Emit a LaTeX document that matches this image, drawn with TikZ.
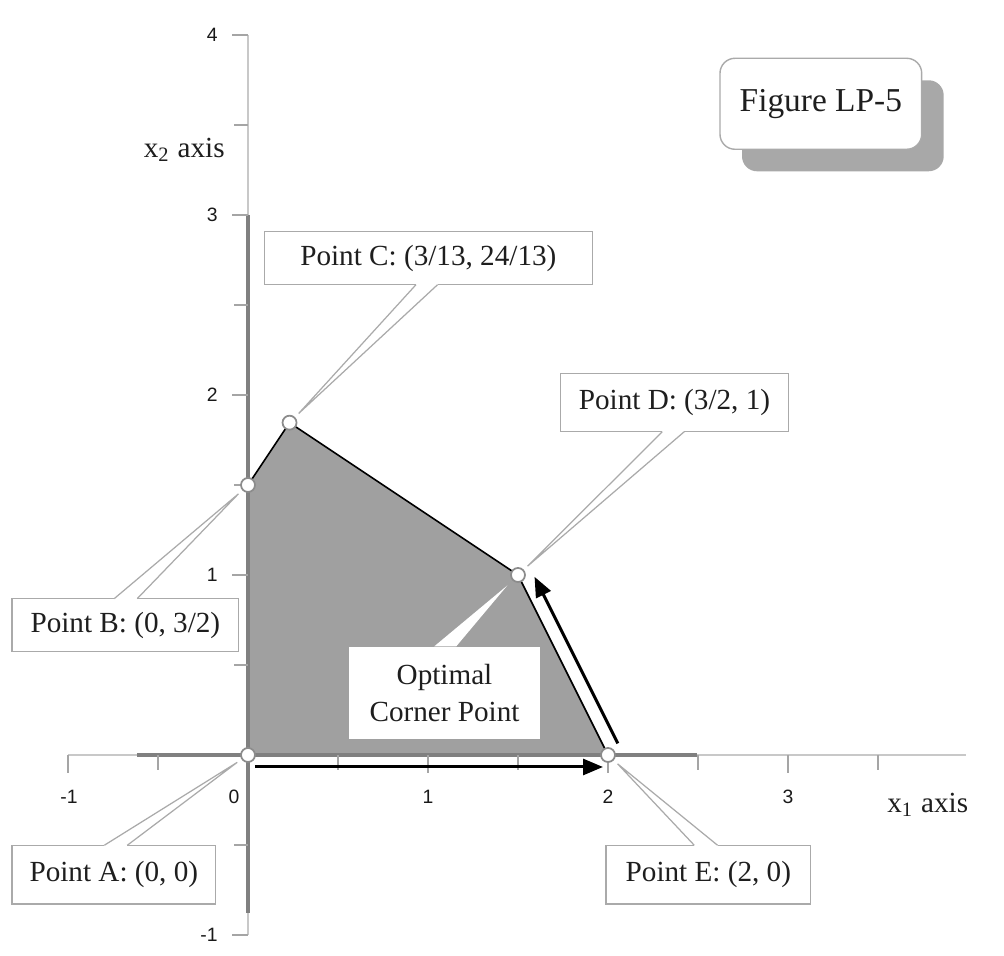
\documentclass[tikz,border=0pt]{standalone}
\usepackage{fontspec}
\setmainfont{Liberation Serif}
\newfontfamily\tickfont{Liberation Sans}
\usetikzlibrary{calc,arrows.meta,shadows}
\definecolor{regiongray}{RGB}{160,160,160}
\definecolor{axisdark}{RGB}{128,128,128}
\definecolor{axislight}{RGB}{200,200,200}
\definecolor{tickgray}{RGB}{165,165,165}
\definecolor{callgray}{RGB}{170,170,170}
\definecolor{shadowgray}{RGB}{168,168,168}
\definecolor{textdark}{RGB}{30,30,30}
\newcommand{\mycallout}[6]{%
  \coordinate (#1L) at ([xshift=#4]#1.#3 west);
  \coordinate (#1R) at ([xshift=#5]#1.#3 west);
  \coordinate (#1M) at ($(#1L)!0.5!(#1R)$);
  \coordinate (#1T) at ($(#2.center)!0.13cm!(#1M)$);
  \draw[callline, fill=white] (#1L) -- (#1T) -- (#1R);
  \draw[callline] (#1R) -- (#1.#3 east) -- (#1.#6 east) -- (#1.#6 west) -- (#1.#3 west) -- (#1L);
}
\begin{document}
\begin{tikzpicture}[x=1.8cm,y=1.8cm,
  labeltext/.style={font=\fontsize{8.3}{10.4}\selectfont, text=textdark},
  ticklabel/.style={font=\tickfont\fontsize{5.5}{6}\selectfont, text=black!90, inner sep=0},
  callbox/.style={labeltext, fill=white, inner sep=0, align=center},
  callline/.style={draw=callgray, line width=0.35pt},
  vertex/.style={circle, draw=black!45, fill=white, line width=0.5pt, minimum size=0.14cm, inner sep=0},
  bigarrow/.style={line width=0.85pt, -{Triangle[length=0.2cm,width=0.16cm]}},
  lightaxis/.style={draw=axislight, line width=0.45pt},
  darkaxis/.style={draw=axisdark, line width=0.9pt},
  tickline/.style={draw=tickgray, line width=0.4pt}]

\fill[white] (-1.37778,-1.11667) rectangle (4.2,4.19444);
\useasboundingbox (-1.37778,-1.11667) rectangle (4.2,4.19444);

% feasible region
\fill[regiongray] (0,0) -- (0,1.5) -- (0.230769,1.846154) -- (1.5,1) -- (2,0) -- cycle;

% axes
\draw[lightaxis] (-1,0) -- (3.99,0);
\draw[darkaxis] (-0.617,0) -- (2.494,0);
\draw[lightaxis] (0,-1) -- (0,4);
\draw[darkaxis] (0,-0.878) -- (0,3);

% ticks
\foreach \t in {-1,1,2,3} \draw[tickline] (\t,0) -- ++(0,-0.18cm);
\foreach \t in {-0.5,0.5,1.5,2.5,3.5} \draw[tickline] (\t,0) -- ++(0,-0.15cm);
\foreach \t in {-1,1,2,3,4} \draw[tickline] (0,\t) -- ++(-0.16cm,0);
\foreach \t in {-0.5,0.5,1.5,2.5,3.5} \draw[tickline] (0,\t) -- ++(-0.14cm,0);

% tick labels
\node[ticklabel] (xlm1) at (-0.994,-0.2333) {-1};
\node[ticklabel] (xl0) at (-0.078,-0.2333) {0};
\node[ticklabel] (xl1) at (1,-0.2333) {1};
\node[ticklabel] (xl2) at (2,-0.2333) {2};
\node[ticklabel] (xl3) at (3,-0.2333) {3};
\node[ticklabel, anchor=east] (ylm1) at (-0.165,-1) {-1};
\node[ticklabel, anchor=east] (yl1) at (-0.165,1) {1};
\node[ticklabel, anchor=east] (yl2) at (-0.165,2) {2};
\node[ticklabel, anchor=east] (yl3) at (-0.165,3) {3};
\node[ticklabel, anchor=east] (yl4) at (-0.165,4) {4};

% axis titles
\node[labeltext, anchor=base west, inner sep=0] (x2lab) at (-0.583,3.317) {x\textsubscript{2} axis};
\node[labeltext, anchor=base west, inner sep=0] (x1lab) at (3.548,-0.322) {x\textsubscript{1} axis};

% vertices
\node[vertex] (A) at (0,0) {};
\node[vertex] (B) at (0,1.5) {};
\node[vertex] (C) at (0.230769,1.846154) {};
\node[vertex] (D) at (1.5,1) {};
\node[vertex] (E) at (2,0) {};

% region edges
\draw[black, line width=0.45pt] (B) -- (C) -- (D) -- (E);

% arrows
\draw[bigarrow, shorten <=0.07cm, shorten >=0.05cm] ([yshift=-0.12cm]A.center) -- ([yshift=-0.12cm]E.center);
\draw[bigarrow, shorten <=0.06cm, shorten >=0.09cm] ([shift={(0.125cm,0.0625cm)}]E.center) -- ([shift={(0.125cm,0.0625cm)}]D.center);

% callouts
\node[callbox, minimum width=2.023cm, minimum height=0.573cm] (bA) at (-0.7453,-0.6647) {Point A: (0, 0)};
\mycallout{bA}{A}{north}{0.923cm}{1.153cm}{south}
\node[callbox, minimum width=2.253cm, minimum height=0.514cm] (bB) at (-0.6814,0.7222) {Point B: (0, 3/2)};
\mycallout{bB}{B}{north}{1.023cm}{1.253cm}{south}
\node[callbox, minimum width=3.267cm, minimum height=0.52cm] (bC) at (1.0019,2.7611) {Point C: (3/13, 24/13)};
\mycallout{bC}{C}{south}{1.517cm}{1.733cm}{north}
\node[callbox, minimum width=2.27cm, minimum height=0.57cm] (bD) at (2.3694,1.9583) {Point D: (3/2, 1)};
\mycallout{bD}{D}{south}{1.02cm}{1.24cm}{north}
\node[callbox, minimum width=2.033cm, minimum height=0.573cm] (bE) at (2.5575,-0.6647) {Point E: (2, 0)};
\mycallout{bE}{E}{north}{0.883cm}{1.116cm}{south}

% optimal corner point callout
\node[callbox, minimum width=1.91cm, minimum height=0.92cm] (bO) at (1.0917,0.3444) {Optimal\\Corner Point};
\coordinate (bOL) at ([xshift=0.86cm]bO.north west);
\coordinate (bOR) at ([xshift=1.08cm]bO.north west);
\coordinate (bOM) at ($(bOL)!0.5!(bOR)$);
\coordinate (bOT) at ($(D.center)!0.15cm!(bOM)$);
\fill[white] (bOL) -- (bOT) -- (bOR) -- cycle;

% figure title
\node[draw=callgray, line width=0.4pt, fill=white, rounded corners=0.15cm, minimum width=2.017cm, minimum height=0.91cm,
  font=\fontsize{9.5}{11}\selectfont, text=textdark,
  drop shadow={shadow xshift=0.22cm, shadow yshift=-0.22cm, fill=shadowgray, opacity=1}] (fig) at (3.1825,3.6178) {Figure LP-5};

\end{tikzpicture}
\end{document}
